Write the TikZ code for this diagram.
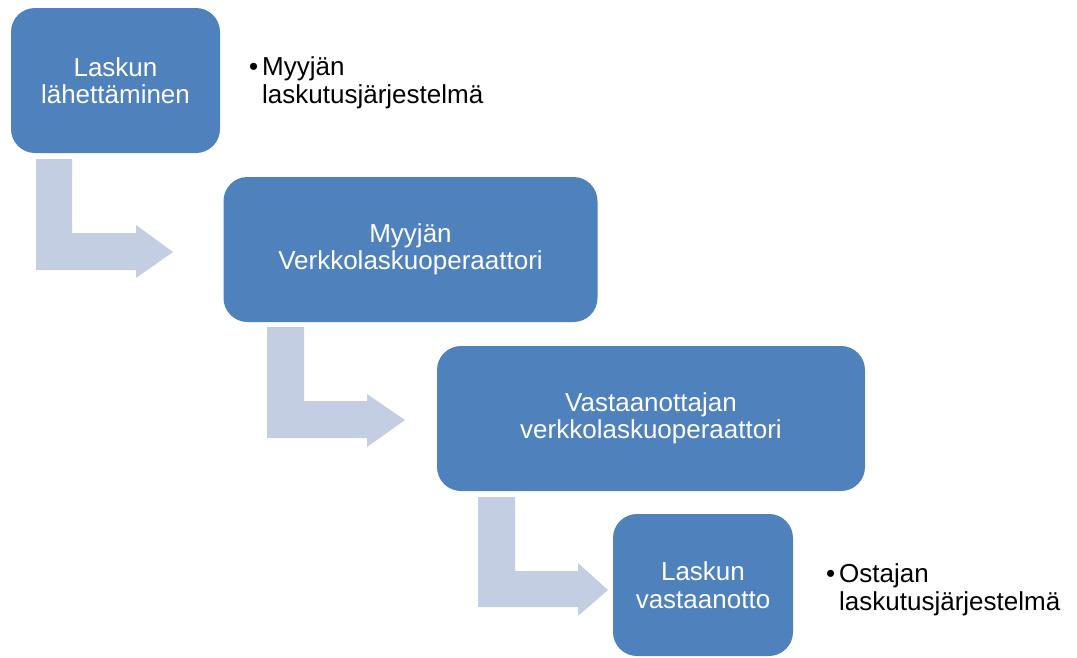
\documentclass[tikz,border=0pt]{standalone}
\usepackage{fontspec}
\setmainfont{Liberation Sans}
\definecolor{boxblue}{HTML}{4F81BD}
\definecolor{arrowgrey}{RGB}{196,206,226}
\begin{document}
\begin{tikzpicture}[x=1pt,y=-1pt,
  box/.style={draw=none,fill=boxblue,rounded corners=24pt,text=white,align=center,
    font=\fontsize{26}{27.5}\selectfont,inner sep=0pt},
  bentarrow/.style={fill=arrowgrey,draw=none},
  note/.style={align=left,anchor=base west,inner sep=0pt,font=\fontsize{26}{27.5}\selectfont,text=black}]
\useasboundingbox (0,0) rectangle (1077,657);
% bent arrows
\fill[bentarrow] (36,159) -- (72,159) -- (72,233) -- (136,233) -- (136,225) -- (173,252) -- (136,278) -- (136,270) -- (36,270) -- cycle;
\fill[bentarrow] (267,327) -- (304,327) -- (304,401) -- (367,401) -- (367,394) -- (405,420) -- (367,447) -- (367,438) -- (267,438) -- cycle;
\fill[bentarrow] (478,497) -- (515,497) -- (515,571) -- (578,571) -- (578,563) -- (608,590) -- (578,616) -- (578,607) -- (478,607) -- cycle;
% boxes
\node[box,minimum width=209pt,minimum height=145pt] (b1) at (115.5,80.5) {Laskun\\lähettäminen};
\node[box,minimum width=374pt,minimum height=145pt] (b2) at (410.5,249.5) {Myyjän\\Verkkolaskuoperaattori};
\node[box,minimum width=428pt,minimum height=145pt] (b3) at (651,418.5) {Vastaanottajan\\verkkolaskuoperaattori};
\node[box,minimum width=180pt,minimum height=142pt] (b4) at (703,585) {Laskun\\vastaanotto};
% notes
\node[note] (n1) at (262,103) {\llap{•\hspace{4pt}}Myyjän\\laskutusjärjestelmä};
\node[note] (n2) at (839,610) {\llap{•\hspace{4pt}}Ostajan\\laskutusjärjestelmä};
\end{tikzpicture}
\end{document}
